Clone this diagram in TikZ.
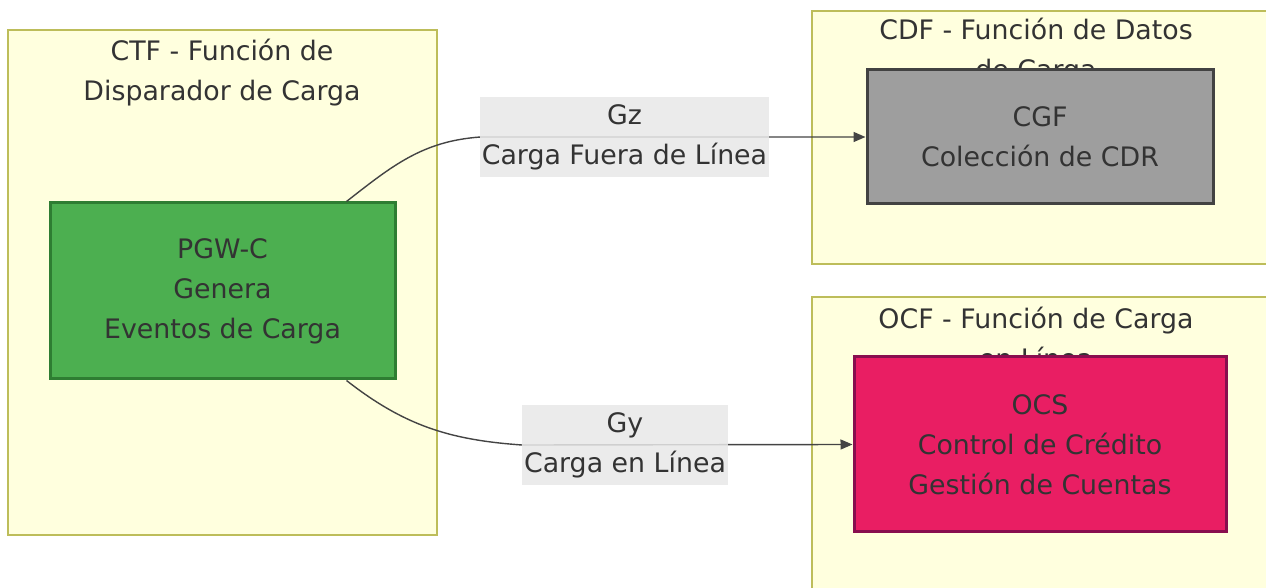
\documentclass[tikz,border=0pt]{standalone}
\usepackage{fontspec}
\setmainfont{DejaVu Sans}
\usetikzlibrary{arrows.meta, positioning}

\definecolor{clusterbg}{HTML}{FFFFDE}
\definecolor{clusterline}{HTML}{BDBD5A}
\definecolor{txt}{HTML}{333333}
\definecolor{lblbg}{HTML}{E8E8E8}
\definecolor{edge}{HTML}{444444}
\definecolor{pgwfill}{HTML}{4CAF50}
\definecolor{pgwline}{HTML}{2E7D32}
\definecolor{cgffill}{HTML}{9E9E9E}
\definecolor{cgfline}{HTML}{424242}
\definecolor{ocsfill}{HTML}{E91E63}
\definecolor{ocsline}{HTML}{880E4F}

\begin{document}
\begin{tikzpicture}[
                x=0.5pt, y=-0.5pt,
                every node/.style={align=center, text=txt, inner sep=0pt, font=\fontsize{13.4}{20}\selectfont},
                cluster/.style={draw=clusterline, fill=clusterbg, line width=0.6pt},
                box/.style={draw, line width=1.5pt, minimum width=#1},
                lbl/.style={fill=lblbg, fill opacity=0.85, text opacity=1, minimum height=40pt},
                arrow/.style={draw=edge, line width=0.7pt, -{Triangle[length=6pt, width=5pt]}}]
            \clip (0,0) rectangle (1266,588);

            % Grupos
            \draw[cluster] (8,30) rectangle (437,535);
            \draw[cluster] (812,11) rectangle (1290,264);
            \draw[cluster] (812,297) rectangle (1290,620);
            \node (ctft) at (222,73) {CTF - Función de\\Disparador de Carga};
            \node (cdft) at (1036,52) {CDF - Función de Datos\\de Carga};
            \node (ocft) at (1036,338) {OCF - Función de Carga\\en Línea};

            % Nodos
            \node[box=172.5pt, minimum height=88pt, fill=pgwfill, draw=pgwline] (pgw) at (222.5,291)
                {PGW-C\\Genera\\Eventos de Carga};
            \node[box=173pt, minimum height=67pt, fill=cgffill, draw=cgfline] (cgf) at (1040,137)
                {CGF\\Colección de CDR};
            \node[box=186pt, minimum height=87.5pt, fill=ocsfill, draw=ocsline] (ocs) at (1040,444.5)
                {OCS\\Control de Crédito\\Gestión de Cuentas};

            % Conexiones
            \coordinate (gzc) at (624.5,137);
            \coordinate (gyc) at (625,445);
            \draw[arrow] ([xshift=-25pt]pgw.north east) to[out=38, in=184] ([xshift=-72pt]gzc) -- (cgf.west);
            \draw[arrow] ([xshift=-25pt]pgw.south east) to[out=-38, in=176] ([xshift=-51.5pt]gyc) -- (ocs.west);
            \node[lbl, minimum width=144.5pt] (gz) at (gzc) {Gz\\Carga Fuera de Línea};
            \node[lbl, minimum width=103pt] (gy) at (gyc) {Gy\\Carga en Línea};

        \end{tikzpicture}
\end{document}
